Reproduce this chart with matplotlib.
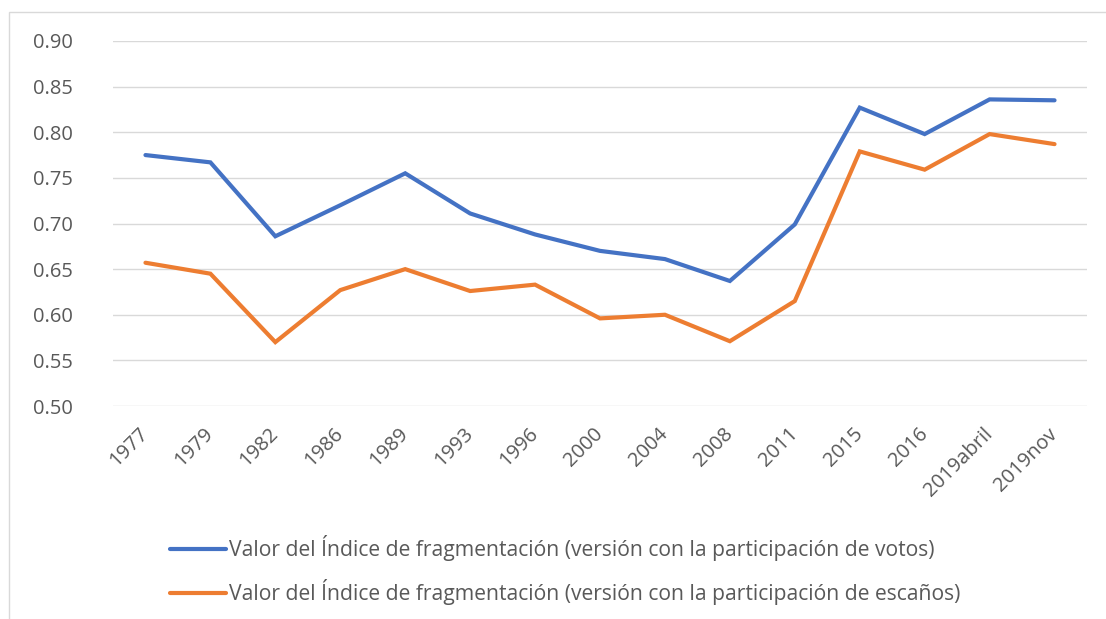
import matplotlib
matplotlib.use("Agg")
import matplotlib.pyplot as plt
from matplotlib.patches import Rectangle

categories = ["1977", "1979", "1982", "1986", "1989", "1993", "1996", "2000",
              "2004", "2008", "2011", "2015", "2016", "2019abril", "2019nov"]
votos = [0.775, 0.767, 0.686, 0.720, 0.755, 0.711, 0.688, 0.670,
         0.661, 0.637, 0.699, 0.827, 0.798, 0.836, 0.835]
escanos = [0.657, 0.645, 0.570, 0.627, 0.650, 0.626, 0.633, 0.596,
           0.600, 0.571, 0.615, 0.779, 0.759, 0.798, 0.787]
yticks = [0.50, 0.55, 0.60, 0.65, 0.70, 0.75, 0.80, 0.85, 0.90]
label_votos = "Valor del Índice de fragmentación (versión con la participación de votos)"
label_escanos = "Valor del Índice de fragmentación (versión con la participación de escaños)"

plt.rcParams['font.family'] = ['Open Sans', 'DejaVu Sans']
W, H = 1106, 619
fig = plt.figure(figsize=(W / 100, H / 100), dpi=100)
fig.patch.set_facecolor("white")

# outer chart border
fig.patches.append(Rectangle((9 / W, -0.1), 1.2, 1 - 12 / H + 0.1, transform=fig.transFigure,
                             fill=False, edgecolor="#D9D9D9", linewidth=1.0))

ax = fig.add_axes([113 / W, 1 - 406 / H, (1087 - 113) / W, (406 - 41) / H])
x = list(range(len(categories)))
l1, = ax.plot(x, votos, color="#4472C4", lw=3.0, solid_capstyle="round", solid_joinstyle="miter",
              label=label_votos)
l2, = ax.plot(x, escanos, color="#ED7D31", lw=3.0, solid_capstyle="round", solid_joinstyle="miter",
              label=label_escanos)

ax.set_xlim(-0.5, len(categories) - 0.5)
ax.set_ylim(0.50, 0.90)
ax.set_yticks(yticks)
ax.set_yticklabels([f"{v:.2f}" for v in yticks])
ax.set_xticks(x)
ax.set_xticklabels(categories, rotation=45, ha="right", va="center", rotation_mode="anchor")
for s in ax.spines.values():
    s.set_visible(False)
ax.grid(axis="y", color="#D9D9D9", lw=1.0)
ax.set_axisbelow(True)
ax.tick_params(axis="both", length=0, labelsize=14.5, colors="#595959")
ax.tick_params(axis="y", pad=29)
ax.tick_params(axis="x", pad=18)

leg = fig.legend(handles=[l1, l2], loc="upper left", bbox_to_anchor=(170 / W, 1 - 535 / H),
                 frameon=False, fontsize=15.2, handlelength=2.65, handletextpad=0.15,
                 labelspacing=0.85, borderaxespad=0, borderpad=0)
for t in leg.get_texts():
    t.set_color("#595959")

fig.savefig("out.png", dpi=100, facecolor="white")
